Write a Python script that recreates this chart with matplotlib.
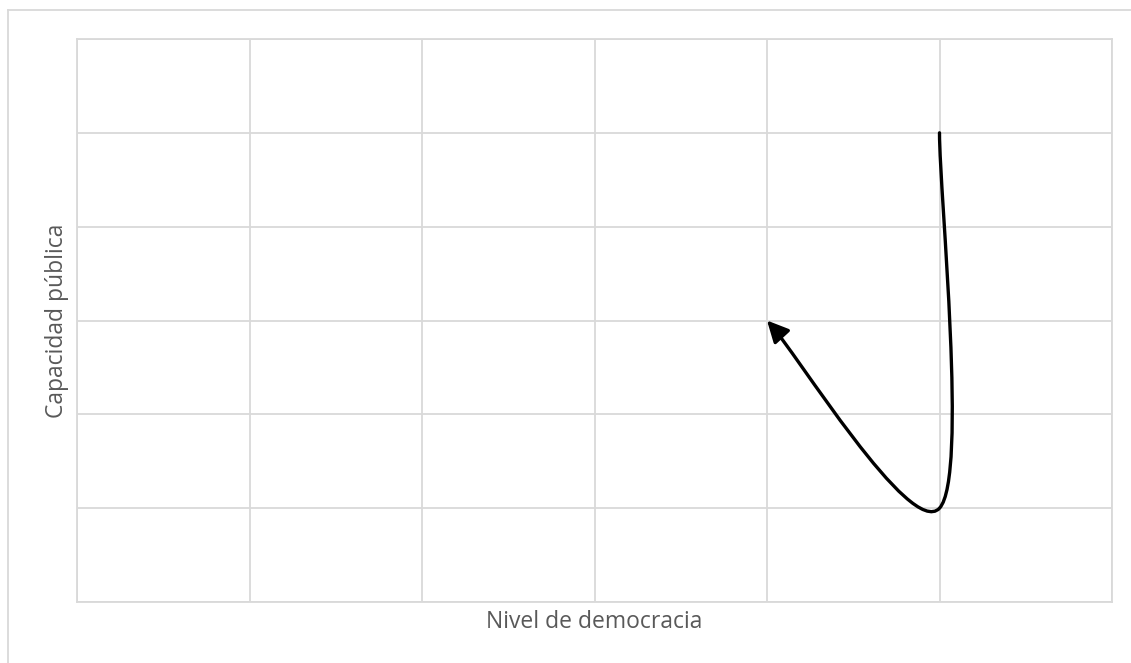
import matplotlib
matplotlib.use('Agg')
import matplotlib.pyplot as plt
from matplotlib.path import Path
from matplotlib.patches import FancyArrowPatch
from matplotlib.lines import Line2D

# data points of the smoothed path (Excel scatter w/ smooth line)
democracia = [5, 5, 4]
capacidad = [5, 1, 3]

x_ticks = [0, 1, 2, 3, 4, 5, 6]
y_ticks = [0, 1, 2, 3, 4, 5, 6]

grid_col = '#d9d9d9'
txt_col = '#595959'

fig = plt.figure(figsize=(11.31, 6.63), dpi=100)
ax = fig.add_axes([77/1131, 61/663, 1035/1131, 563/663])

# catmull-rom style bezier, like excel's smoothing
pts = list(zip(democracia, capacidad))
verts = [pts[0]]
codes = [Path.MOVETO]
n = len(pts)
for i in range(n - 1):
    p0 = pts[i - 1] if i > 0 else pts[i]
    p1 = pts[i]
    p2 = pts[i + 1]
    p3 = pts[i + 2] if i + 2 < n else pts[i + 1]
    c1 = (p1[0] + (p2[0] - p0[0]) / 6, p1[1] + (p2[1] - p0[1]) / 6)
    c2 = (p2[0] - (p3[0] - p1[0]) / 6, p2[1] - (p3[1] - p1[1]) / 6)
    verts += [c1, c2, p2]
    codes += [Path.CURVE4] * 3

arrow = FancyArrowPatch(path=Path(verts, codes), arrowstyle='-|>,head_length=0.65,head_width=0.32',
                        mutation_scale=20, color='black', lw=2.4, zorder=3)
ax.add_patch(arrow)

ax.set_xlim(0, 6)
ax.set_ylim(0, 6)
ax.set_xticks(x_ticks)
ax.set_yticks(y_ticks)
ax.tick_params(length=0, labelbottom=False, labelleft=False)
ax.grid(True, color=grid_col, lw=1.3)
ax.set_axisbelow(True)
for s in ax.spines.values():
    s.set_color(grid_col)
    s.set_linewidth(1.3)

ax.set_xlabel('Nivel de democracia', fontsize=16.5, color=txt_col, family='Open Sans', labelpad=6)
ax.set_ylabel('Capacidad pública', fontsize=16.5, color=txt_col, family='Open Sans', labelpad=6)

# outer chart border (cropped)
fig.add_artist(Line2D([8/1131, 1], [1 - 10/663, 1 - 10/663], color=grid_col, lw=1.3))
fig.add_artist(Line2D([8/1131, 8/1131], [0, 1 - 10/663], color=grid_col, lw=1.3))

plt.savefig('out.png', dpi=100)
